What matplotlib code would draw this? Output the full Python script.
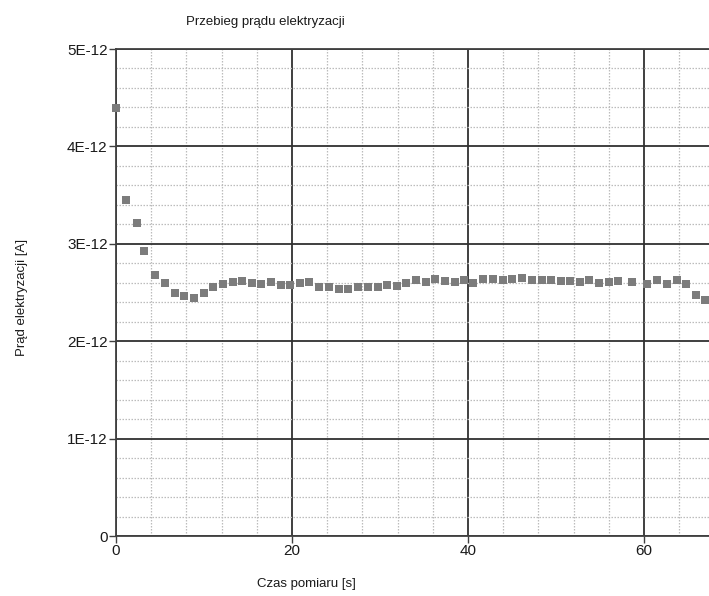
import numpy as np
import matplotlib
matplotlib.use('Agg')
import matplotlib.pyplot as plt
from matplotlib.ticker import FixedLocator, MultipleLocator, FuncFormatter

plt.rcParams['font.family'] = ['Liberation Sans', 'DejaVu Sans']

# czas pomiaru [s]
czas = [0.0, 1.14, 2.35, 3.22, 4.47, 5.57, 6.67, 7.73, 8.83, 9.97,
        11.07, 12.13, 13.26, 14.33, 15.43, 16.52, 17.62, 18.72, 19.82, 20.92,
        21.98, 23.12, 24.22, 25.36, 26.41, 27.48, 28.62, 29.76, 30.85, 31.95,
        33.0, 34.1, 35.2, 36.3, 37.4, 38.5, 39.57, 40.6, 41.76, 42.83,
        43.97, 44.99, 46.16, 47.27, 48.4, 49.46, 50.6, 51.62, 52.76, 53.8,
        54.95, 56.0, 57.1, 58.6, 60.4, 61.5, 62.6, 63.75, 64.8, 65.9, 66.96]
# prad elektryzacji [1e-12 A]
prad = [4.39, 3.45, 3.21, 2.93, 2.68, 2.60, 2.49, 2.46, 2.44, 2.50,
        2.56, 2.59, 2.61, 2.62, 2.60, 2.59, 2.61, 2.58, 2.58, 2.60,
        2.61, 2.56, 2.56, 2.54, 2.54, 2.56, 2.56, 2.56, 2.58, 2.57,
        2.60, 2.63, 2.61, 2.64, 2.62, 2.61, 2.63, 2.60, 2.64, 2.64,
        2.63, 2.64, 2.65, 2.63, 2.63, 2.625, 2.615, 2.615, 2.605, 2.625,
        2.60, 2.605, 2.615, 2.61, 2.59, 2.625, 2.585, 2.63, 2.59, 2.47, 2.42]

x_ticks = [0, 20, 40, 60]
y_ticks = [0, 1e-12, 2e-12, 3e-12, 4e-12, 5e-12]

x = np.array(czas)
y = np.array(prad) * 1e-12

W, H = 709, 596
fig = plt.figure(figsize=(W / 100.0, H / 100.0), dpi=100)
ax = fig.add_axes([116.0 / W, 1 - 536.0 / H, 1 - 116.0 / W, (536.0 - 49.0) / H])

ax.scatter(x, y, marker='s', s=30, color='#7c7c7c', linewidths=0, zorder=3, clip_on=False)

ax.set_xlim(0, 67.4)
ax.set_ylim(0, 5e-12)
ax.xaxis.set_major_locator(FixedLocator(x_ticks))
ax.xaxis.set_minor_locator(MultipleLocator(4))
ax.yaxis.set_major_locator(FixedLocator(y_ticks))
ax.yaxis.set_minor_locator(MultipleLocator(0.2e-12))
ax.yaxis.set_major_formatter(FuncFormatter(
    lambda v, p: '0' if abs(v) < 1e-15 else '%dE-12' % round(v / 1e-12)))

ax.grid(which='minor', linestyle=(0, (1.2, 1.2)), color='#bcbcbc', linewidth=0.9)
ax.grid(which='major', linestyle='-', color='#303030', linewidth=1.3)
ax.set_axisbelow(True)

ax.spines['right'].set_visible(False)
for s in ['left', 'bottom', 'top']:
    ax.spines[s].set_color('#404040')
    ax.spines[s].set_linewidth(1.3)

ax.tick_params(which='major', direction='out', length=5, width=1.0, color='#404040',
               labelsize=11, labelcolor='#1a1a1a', pad=1)
ax.tick_params(which='minor', length=0)

fig.text(265.0 / W, 1 - 22.0 / H, 'Przebieg prądu elektryzacji', ha='center', va='center',
         fontsize=9.5, color='#1a1a1a')
fig.text(306.0 / W, 1 - 584.0 / H, 'Czas pomiaru [s]', ha='center', va='center',
         fontsize=9.5, color='#1a1a1a')
fig.text(22.0 / W, 1 - 297.0 / H, 'Prąd elektryzacji [A]', ha='center', va='center',
         rotation=90, fontsize=9.5, color='#1a1a1a')

fig.savefig('out.png', dpi=100, facecolor='white')
